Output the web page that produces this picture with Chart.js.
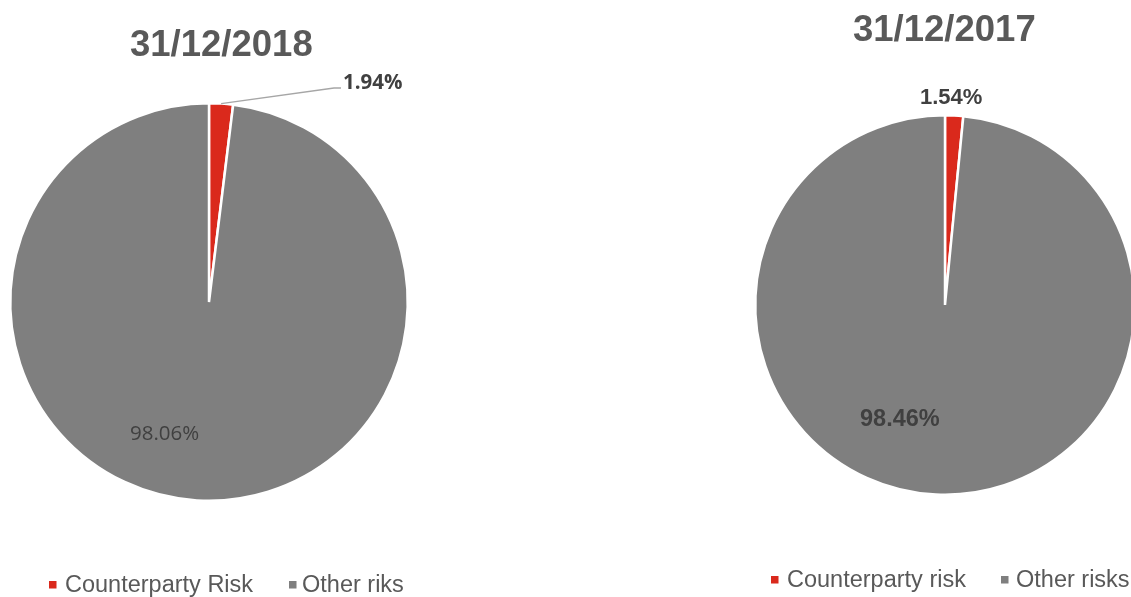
<!DOCTYPE html>
<html>
<head>
<meta charset="utf-8">
<title>Counterparty risk share</title>
<script src="https://cdn.jsdelivr.net/npm/chart.js"></script>
<style>
    body { margin: 0; overflow: hidden; background: #fff; width: 1131px; height: 597px; position: relative; }
    canvas { position: absolute; top: 0; }
</style>
</head>
<body>
<canvas id="pie2018" width="565" height="597" style="left:0"></canvas>
<canvas id="pie2017" width="620" height="597" style="left:565px"></canvas>

<script>
    // Share of counterparty risk in total risk exposure (%)
    var labels2018 = ["Counterparty Risk", "Other riks"];
    var values2018 = [1.94, 98.06];
    var labels2017 = ["Counterparty risk", "Other risks"];
    var values2017 = [1.54, 98.46];
    var sliceColors = ["#DA291C", "#7F7F7F"];

    var ARIAL = "'Liberation Sans', Arial, sans-serif";
    var CALIBRI = "'Open Sans', 'Noto Sans', sans-serif";

    // Titles, value labels and legend drawn on top of each pie
    var decorations = {
        id: "decorations",
        afterDraw: function(chart, args, opts) {
            var ctx = chart.ctx;
            var meta = chart.getDatasetMeta(0);
            var values = chart.data.datasets[0].data;
            var colors = chart.data.datasets[0].backgroundColor;
            ctx.save();
            ctx.textBaseline = "alphabetic";
            ctx.textAlign = "left";

            ctx.fillStyle = "#595959";
            ctx.font = "bold 36.5px " + ARIAL;
            ctx.fillText(opts.title, opts.titleX, opts.titleY);

            opts.labels.forEach(function(lab, i) {
                var text = values[i].toFixed(2) + "%";
                ctx.font = lab.font;
                ctx.fillStyle = "#404040";
                ctx.fillText(text, lab.x, lab.y);
                if (lab.leader) {
                    var arc = meta.data[i];
                    var mid = (arc.startAngle + arc.endAngle) / 2;
                    ctx.strokeStyle = "#A6A6A6";
                    ctx.lineWidth = 1.5;
                    ctx.beginPath();
                    ctx.moveTo(arc.x + Math.cos(mid) * arc.outerRadius, arc.y + Math.sin(mid) * arc.outerRadius);
                    ctx.lineTo(lab.leader[0], lab.leader[1]);
                    ctx.lineTo(lab.leader[2], lab.leader[1]);
                    ctx.stroke();
                }
            });

            ctx.font = "23.5px " + ARIAL;
            chart.data.labels.forEach(function(name, i) {
                var item = opts.legend[i];
                ctx.fillStyle = colors[i];
                ctx.fillRect(item.x, opts.legendY - 11, 7.5, 7.5);
                ctx.fillStyle = "#595959";
                ctx.fillText(name, item.tx, opts.legendY);
            });
            ctx.restore();
        }
    };

    function makePie(id, labels, values, padding, deco) {
        return new Chart(document.getElementById(id), {
            type: "pie",
            data: {
                labels: labels,
                datasets: [{
                    data: values,
                    backgroundColor: sliceColors,
                    borderColor: "#FFFFFF",
                    borderWidth: 2.5,
                    hoverOffset: 0
                }]
            },
            options: {
                responsive: false,
                animation: false,
                events: [],
                layout: { padding: padding },
                plugins: {
                    legend: { display: false },
                    tooltip: { enabled: false },
                    decorations: deco
                }
            },
            plugins: [decorations]
        });
    }

    makePie("pie2018", labels2018, values2018,
        { left: 9, top: 102, right: 156, bottom: 95 },
        {
            title: "31/12/2018", titleX: 130, titleY: 56,
            labels: [
                { x: 343, y: 89, font: "bold 20.5px " + CALIBRI, leader: [334, 88, 341] },
                { x: 130, y: 440, font: "20.5px " + CALIBRI }
            ],
            legend: [{ x: 49, tx: 65 }, { x: 289, tx: 302 }],
            legendY: 592
        });

    makePie("pie2017", labels2017, values2017,
        { left: 189, top: 114, right: 49, bottom: 101 },
        {
            title: "31/12/2017", titleX: 288, titleY: 41,
            labels: [
                { x: 355, y: 104, font: "bold 22px " + ARIAL },
                { x: 295, y: 426, font: "bold 23.5px " + ARIAL }
            ],
            legend: [{ x: 206, tx: 222 }, { x: 436, tx: 451 }],
            legendY: 587
        });
</script>
</body>
</html>
